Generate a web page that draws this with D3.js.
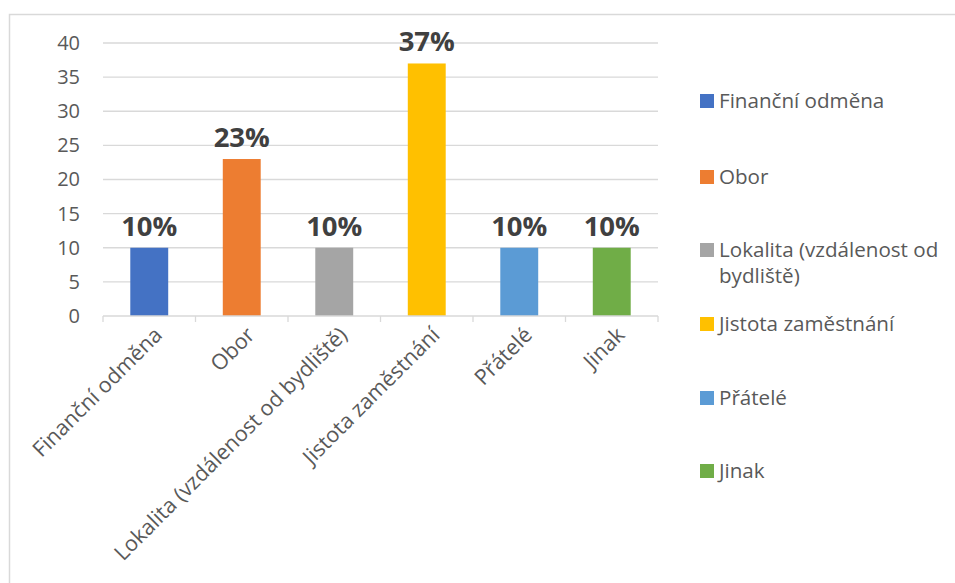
<!DOCTYPE html>
<html>
<head>
<meta charset="utf-8">
<script src="https://cdn.jsdelivr.net/npm/d3@7"></script>
<style>
  html, body { margin: 0; padding: 0; background: #fff; }
  svg { display: block; font-family: "Open Sans", "Liberation Sans", sans-serif; }
</style>
</head>
<body>
<svg id="chart" width="955" height="583"></svg>
<script>
// Categories, values and colours of the bar chart
const categories = ["Finanční odměna", "Obor", "Lokalita (vzdálenost od bydliště)", "Jistota zaměstnání", "Přátelé", "Jinak"];
const values = [10, 23, 10, 37, 10, 10];
const valueLabels = ["10%", "23%", "10%", "37%", "10%", "10%"];
const colors = ["#4472C4", "#ED7D31", "#A5A5A5", "#FFC000", "#5B9BD5", "#70AD47"];
const yTicks = [0, 5, 10, 15, 20, 25, 30, 35, 40];
// Legend text, with the long entry split onto two lines
const legendLines = [["Finanční odměna"], ["Obor"], ["Lokalita (vzdálenost od", "bydliště)"], ["Jistota zaměstnání"], ["Přátelé"], ["Jinak"]];

const svg = d3.select("#chart");
const plot = { left: 103, right: 658, top: 43, bottom: 316 };

// Chart area frame (top and left edges)
svg.append("path")
  .attr("d", "M9.5,583 L9.5,14.5 L955,14.5")
  .attr("fill", "none")
  .attr("stroke", "#d9d9d9")
  .attr("stroke-width", 1.5);

const x = d3.scaleBand().domain(categories).range([plot.left, plot.right]).paddingInner(0.59).paddingOuter(0.295);
const xb = d3.scaleBand().domain(categories).range([plot.left, plot.right]);
const y = d3.scaleLinear().domain([0, 40]).range([plot.bottom, plot.top]);

// Horizontal gridlines
svg.append("g").selectAll("line").data(yTicks.filter(d => d > 0)).join("line")
  .attr("x1", plot.left).attr("x2", plot.right)
  .attr("y1", d => y(d)).attr("y2", d => y(d))
  .attr("stroke", "#d9d9d9").attr("stroke-width", 1.3);

// Y axis labels
const yAxis = d3.axisLeft(y).tickValues(yTicks).tickSize(0).tickPadding(23);
const gy = svg.append("g").attr("transform", `translate(${plot.left},0)`).call(yAxis);
gy.select(".domain").remove();
gy.selectAll("text").attr("font-size", 20).attr("fill", "#595959").attr("font-family", "\"Open Sans\", sans-serif");

// Bars
svg.append("g").selectAll("rect").data(values).join("rect")
  .attr("x", (d, i) => x(categories[i]))
  .attr("width", x.bandwidth())
  .attr("y", d => y(d))
  .attr("height", d => y(0) - y(d))
  .attr("fill", (d, i) => colors[i]);

// X axis with tick marks at category boundaries
const gx = svg.append("g").attr("transform", `translate(0,${plot.bottom})`);
gx.append("line").attr("x1", plot.left).attr("x2", plot.right).attr("y1", 0).attr("y2", 0)
  .attr("stroke", "#d9d9d9").attr("stroke-width", 1.3);
const bounds = categories.map(c => xb(c)).concat([plot.right]);
gx.selectAll("line.tick").data(bounds).join("line").attr("class", "tick")
  .attr("x1", d => d).attr("x2", d => d).attr("y1", 0).attr("y2", 6)
  .attr("stroke", "#d9d9d9").attr("stroke-width", 1.3);

// Rotated category labels
gx.selectAll("text").data(categories).join("text")
  .attr("transform", d => `translate(${xb(d) + xb.bandwidth() / 2 + 9},${15}) rotate(-45)`)
  .attr("text-anchor", "end")
  .attr("dy", "0.35em")
  .attr("font-size", 21.5)
  .attr("fill", "#595959")
  .text(d => d);

// Value labels above bars
svg.append("g").selectAll("text").data(values).join("text")
  .attr("x", (d, i) => x(categories[i]) + x.bandwidth() / 2)
  .attr("y", d => y(d) - 12)
  .attr("text-anchor", "middle")
  .attr("font-size", 27.5)
  .attr("font-weight", "bold")
  .attr("fill", "#404040")
  .text((d, i) => valueLabels[i]);

// Legend
const legend = svg.append("g");
const legendY = [101, 177, 250, 324, 398, 471];
legendLines.forEach((lines, i) => {
  legend.append("rect")
    .attr("x", 700).attr("y", legendY[i] - 7)
    .attr("width", 14).attr("height", 14)
    .attr("fill", colors[i]);
  const t = legend.append("text")
    .attr("x", 719).attr("y", legendY[i])
    .attr("font-size", 20.6)
    .attr("fill", "#595959");
  lines.forEach((ln, j) => {
    t.append("tspan").attr("x", 719).attr("dy", j === 0 ? "0.35em" : 26).text(ln);
  });
});
</script>
</body>
</html>
